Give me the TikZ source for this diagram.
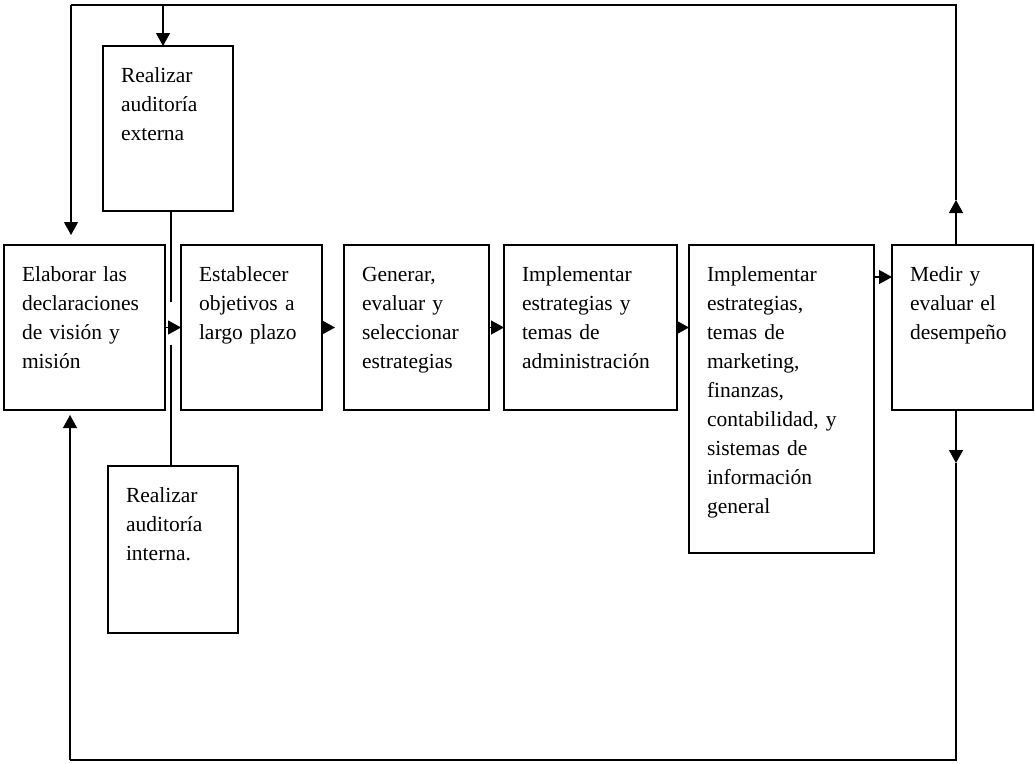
\documentclass[tikz,border=0pt]{standalone}
\usepackage{fontspec}
\setmainfont{Liberation Serif}
\usetikzlibrary{positioning,arrows.meta}

\tikzset{
  stepbox/.style={draw, line width=1.2pt, anchor=north west, align=left,
    inner xsep=18pt, inner ysep=0pt, outer sep=0pt, text height=36pt, text depth=129pt,
    font=\fontsize{21.5}{29}\selectfont},
  flow/.style={line width=1.2pt, -{Triangle[length=13pt,width=14pt]}},
  link/.style={line width=1.2pt},
}

\begin{document}
\begin{tikzpicture}[x=1pt, y=-1pt]
  \useasboundingbox (0,0) rectangle (1035,763);
  % pasos
  \node[stepbox, text width=125pt] (vision) at (4,245)
    {Elaborar las\\declaraciones\\de visión y\\misión};
  \node[stepbox, text width=105pt, below right=0pt and 16pt of vision.north east] (goals)
    {Establecer\\objetivos a\\largo plazo};
  \node[stepbox, text width=109pt, below right=0pt and 22pt of goals.north east] (choose)
    {Generar,\\evaluar y\\seleccionar\\estrategias};
  \node[stepbox, text width=137pt, below right=0pt and 15pt of choose.north east] (admin)
    {Implementar\\estrategias y\\temas de\\administración};
  \node[stepbox, text width=149pt, text depth=272pt, below right=0pt and 12pt of admin.north east] (areas)
    {Implementar\\estrategias,\\temas de\\marketing,\\finanzas,\\contabilidad, y\\sistemas de\\información\\general};
  \node[stepbox, text width=105pt, below right=0pt and 18pt of areas.north east] (measure)
    {Medir y\\evaluar el\\desempeño};
  % auditorias
  \node[stepbox, text width=94pt] (extaudit) at (103,46)
    {Realizar\\auditoría\\externa};
  \node[stepbox, text width=94pt, text depth=131pt] (intaudit) at (108,466)
    {Realizar\\auditoría\\interna.};

  % puntos de paso
  \coordinate (tl) at (71,5);
  \coordinate (tm) at (163,5);
  \coordinate (tr) at (956,5);
  \coordinate (bl) at (70,760);
  \coordinate (br) at (956,760);
  \coordinate (uptip) at (956,200);
  \coordinate (dntip) at (956,463);
  \coordinate (jtop) at (171,302);
  \coordinate (jbot) at (171,345);

  % flujo principal
  \draw[flow] (vision.east) -- (goals.west);
  \draw[flow, shorten >=9pt] (goals.east) -- (choose.west);
  \draw[flow] (choose.east) -- (admin.west);
  \draw[flow] (admin.east) -- (admin.east -| areas.west);
  \draw[flow] ([yshift=-32pt]areas.north east) -- ([yshift=-32pt]measure.north west);

  % auditorias
  \draw[link] (extaudit.south -| jtop) -- (jtop);
  \draw[link] (intaudit.north -| jbot) -- (jbot);

  % retroalimentacion
  \draw[flow] (measure.north -| tr) -- (uptip);
  \draw[link] (uptip) -- (tr) -- (tl);
  \draw[flow, shorten >=10pt] (tl) -- (vision.north -| tl);
  \draw[flow] (tm) -- (tm |- extaudit.north);
  \draw[flow] (measure.south -| br) -- (dntip);
  \draw[link] (dntip) -- (br) -- (bl);
  \draw[flow, shorten >=5pt] (bl) -- (vision.south -| bl);
\end{tikzpicture}
\end{document}
